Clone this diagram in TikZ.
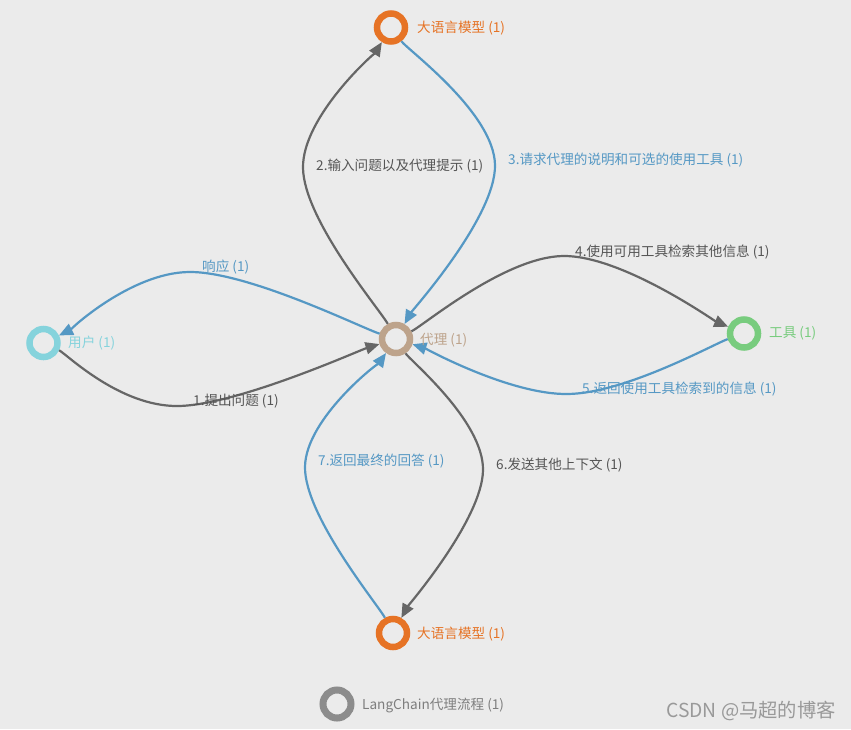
\documentclass[tikz,border=0pt]{standalone}
\usepackage{fontspec}
\setmainfont{Noto Sans CJK SC}
\usetikzlibrary{calc,arrows.meta}
\definecolor{bg}{HTML}{EBEBEB}
\definecolor{lcorange}{HTML}{E67325}
\definecolor{lcteal}{HTML}{85D3DC}
\definecolor{lcgreen}{HTML}{78CC7E}
\definecolor{lctan}{HTML}{BDA38B}
\definecolor{lcgray}{HTML}{8C8C8C}
\definecolor{lcblue}{HTML}{5598C4}
\definecolor{lcdark}{HTML}{666666}
\definecolor{lctext}{HTML}{555555}
\newcommand{\lcedge}[4]{%
  \draw[#1] (#2) .. controls ($(#2)!0.1667!(#3)$) and ($(#3)+0.1667*(#2)-0.1667*(#4)$) .. (#3)
    .. controls ($(#3)+0.1667*(#4)-0.1667*(#2)$) and ($(#4)!0.1667!(#3)$) .. (#4);}
\begin{document}
\begin{tikzpicture}[x=1pt,y=-1pt,
  ring/.style={circle, draw=#1, line width=6.5pt, minimum size=28pt, inner sep=0pt, fill=bg},
  nlabel/.style={anchor=west, inner sep=0pt, font=\fontsize{13.6}{16}\selectfont, text=#1},
  elabel/.style={anchor=west, inner sep=0pt, font=\fontsize{13.6}{16}\selectfont, text=#1},
  gedge/.style={draw=lcdark, line width=2.2pt, -{Triangle[length=14pt,width=12pt]}},
  bedge/.style={draw=lcblue, line width=2.2pt, -{Triangle[length=14pt,width=12pt]}}]
\fill[bg] (0,0) rectangle (851,729);
\useasboundingbox (0,0) rectangle (851,729);

% apex coordinates
\coordinate (m1) at (178,406);
\coordinate (mr) at (189,272);
\coordinate (m2) at (303,168);
\coordinate (m3) at (495,165);
\coordinate (m4) at (563,256);
\coordinate (m5) at (568,394);
\coordinate (m6) at (483,470);
\coordinate (m7) at (305,467);

% nodes
\node[ring=lcorange] (llmT) at (391,27.5) {};
\node[ring=lctan] (ag) at (396,339) {};
\node[ring=lcteal] (us) at (43.5,343) {};
\node[ring=lcgreen] (tl) at (744,333.5) {};
\node[ring=lcorange] (llmB) at (393,633) {};
\node[ring=lcgray, line width=7pt, minimum size=28pt] (lg) at (337,704) {};

% edges
\lcedge{gedge}{us}{m1}{ag}
\lcedge{bedge}{ag}{mr}{us}
\lcedge{gedge}{ag}{m2}{llmT}
\lcedge{bedge}{llmT}{m3}{ag}
\lcedge{gedge}{ag}{m4}{tl}
\lcedge{bedge}{tl}{m5}{ag}
\lcedge{gedge}{ag}{m6}{llmB}
\lcedge{bedge}{llmB}{m7}{ag}

% node labels
\node[nlabel=lcorange] (llmTl) at (417,28.5) {大语言模型 (1)};
\node[nlabel=lctan] (agl) at (420,340) {代理 (1)};
\node[nlabel=lcteal] (usl) at (68,343.5) {用户 (1)};
\node[nlabel=lcgreen] (tll) at (769,333.5) {工具 (1)};
\node[nlabel=lcorange] (llmBl) at (417,634) {大语言模型 (1)};
\node[nlabel=lcgray!90!black] (lgl) at (362,705.5) {LangChain代理流程 (1)};

% edge labels
\node[elabel=lctext] (l1) at (193,401.5) {1.提出问题 (1)};
\node[elabel=lcblue] (lr) at (202,267.5) {响应 (1)};
\node[elabel=lctext] (l2) at (316,166.5) {2.输入问题以及代理提示 (1)};
\node[elabel=lcblue] (l3) at (508,160) {3.请求代理的说明和可选的使用工具 (1)};
\node[elabel=lctext] (l4) at (575,252) {4.使用可用工具检索其他信息 (1)};
\node[elabel=lcblue] (l5) at (582,389) {5.返回使用工具检索到的信息 (1)};
\node[elabel=lctext] (l6) at (496,465.5) {6.发送其他上下文 (1)};
\node[elabel=lcblue] (l7) at (318,461.5) {7.返回最终的回答 (1)};

% watermark
\node[anchor=west, inner sep=0pt, font=\fontsize{19.3}{22}\selectfont, text=black!40] (wm) at (666,711) {CSDN @马超的博客};
\end{tikzpicture}
\end{document}
